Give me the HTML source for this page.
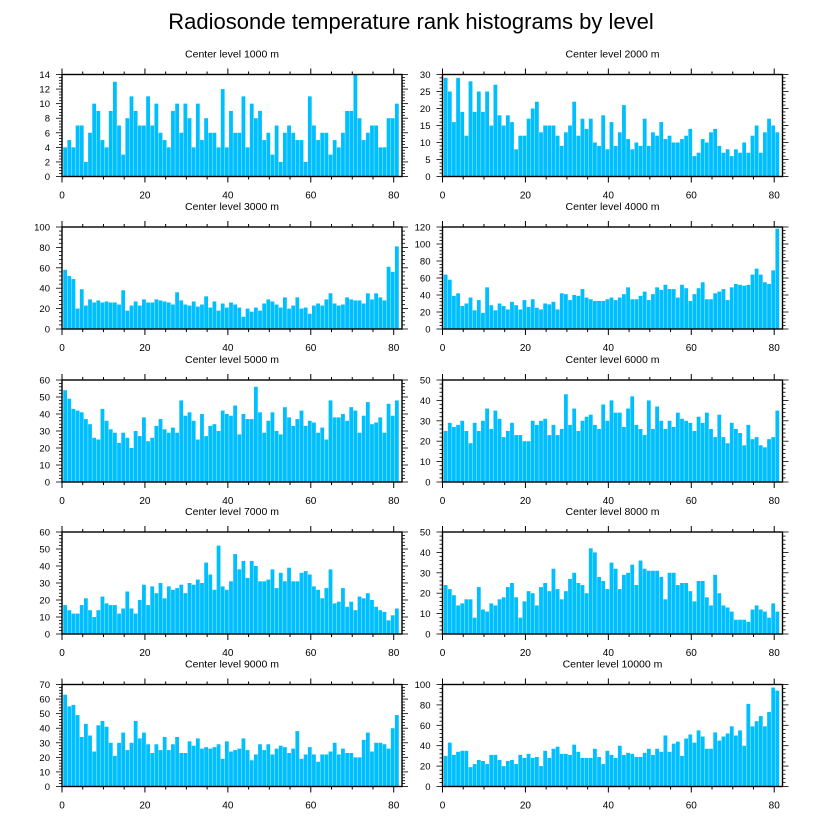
<!DOCTYPE html>
<html><head><meta charset="utf-8"><style>
html,body{margin:0;padding:0;background:#fff;}
svg{display:block;font-family:"Liberation Sans",Arial,sans-serif;}
</style></head><body>
<svg id="chart" width="822" height="824" viewBox="0 0 822 824" xmlns="http://www.w3.org/2000/svg">
<text x="411" y="29" text-anchor="middle" font-size="22">Radiosonde temperature rank histograms by level</text>
</svg>
<script>
const levels = [1000,2000,3000,4000,5000,6000,7000,8000,9000,10000];
const yMaxes = [14,30,100,120,60,50,60,50,70,100];
const yMajorSteps = [2,5,20,20,10,10,10,10,10,20];
const xTicks = [0,20,40,60,80];
const c1000 = [4,5,4,7,7,2,6,10,9,5,4,9,13,7,3,8,11,9,7,7,11,7,10,6,5,4,9,10,6,10,8,4,10,5,8,6,6,4,12,4,9,6,6,11,4,10,8,9,5,6,3,7,2,6,7,6,5,5,2,11,7,5,6,6,3,5,4,6,9,9,14,8,5,6,7,7,4,4,8,8,10];
const c2000 = [29,25,16,29,19,12,28,19,25,19,25,15,27,18,15,18,16,8,12,12,17,20,22,13,15,15,15,12,9,13,15,22,12,17,14,17,10,9,18,8,16,9,13,21,11,8,10,9,17,9,13,12,16,11,12,10,10,11,12,14,6,7,11,10,13,14,9,7,8,6,8,7,10,7,12,15,7,13,17,15,13];
const c3000 = [58,52,49,20,39,23,29,26,28,26,27,26,26,24,38,18,23,27,23,29,26,26,29,28,27,26,24,36,28,24,23,27,22,24,32,21,27,18,25,21,26,24,21,12,20,17,21,18,25,29,27,24,21,31,20,23,31,20,21,15,23,25,23,29,35,25,23,24,31,29,28,28,25,35,29,35,31,28,61,56,81];
const c4000 = [64,58,39,42,27,30,37,22,34,19,49,28,22,30,27,23,32,28,23,34,26,35,25,23,30,29,32,23,42,41,34,40,39,47,37,35,33,33,33,35,37,34,37,41,49,35,35,39,44,34,41,49,46,52,47,47,37,52,48,33,41,48,55,35,35,42,44,47,34,49,53,52,51,52,64,71,64,55,53,69,118];
const c5000 = [54,49,43,42,41,37,34,26,25,43,36,31,29,23,29,26,20,30,27,38,24,26,33,37,31,29,32,29,48,39,41,36,25,40,27,33,34,30,42,40,39,45,28,40,37,37,56,41,29,36,41,30,28,44,38,33,37,42,33,36,35,29,32,25,48,38,38,40,36,44,42,29,39,47,34,35,38,29,46,39,48];
const c6000 = [25,29,27,28,30,25,19,29,25,30,36,26,35,31,22,25,29,23,23,20,20,30,28,30,31,23,28,23,26,43,28,36,25,30,32,33,28,26,38,30,40,34,34,27,36,42,28,26,23,40,26,37,30,26,30,27,34,31,30,29,25,32,29,34,26,22,33,22,19,29,26,24,18,28,21,22,18,17,21,22,35];
const c7000 = [17,14,12,12,17,21,14,10,14,22,18,17,17,12,15,25,15,12,20,29,17,28,24,30,21,28,26,27,29,24,30,29,32,30,42,35,26,52,28,26,31,47,38,43,33,43,40,31,31,32,38,27,36,31,39,31,31,36,37,35,28,26,21,27,38,18,19,27,16,19,14,22,21,24,20,16,14,13,8,11,15];
const c8000 = [24,22,19,14,15,17,17,8,23,12,11,15,14,17,18,23,25,18,8,16,21,20,14,23,25,21,32,22,17,21,27,30,25,24,20,42,40,28,26,22,35,32,22,29,30,34,24,36,32,31,31,31,28,17,30,30,24,25,25,21,16,26,26,18,14,29,20,14,13,11,7,7,7,6,12,14,12,11,8,15,11];
const c9000 = [63,55,56,49,34,43,35,24,42,45,41,30,21,30,37,25,30,45,33,37,29,23,29,25,34,25,29,34,23,23,31,28,33,26,27,26,27,29,19,31,24,25,26,33,25,18,22,29,25,29,22,26,28,27,23,26,38,19,22,27,22,17,22,22,24,30,22,26,23,23,20,20,32,37,24,30,30,29,26,40,49];
const c10000 = [30,43,31,34,35,35,19,22,26,25,22,31,31,26,20,25,26,22,31,28,32,28,29,20,35,28,37,39,32,32,31,41,34,28,28,28,37,29,22,35,31,28,40,31,33,32,29,29,33,37,31,37,34,50,34,42,44,30,47,51,43,55,49,37,37,53,45,49,52,59,50,55,40,81,59,64,69,59,73,97,94];
const allCounts = [c1000,c2000,c3000,c4000,c5000,c6000,c7000,c8000,c9000,c10000];

const NS = "http://www.w3.org/2000/svg";
const svg = document.getElementById('chart');
function mk(tag, attrs, parent){ const e=document.createElementNS(NS,tag); for(const k in attrs) e.setAttribute(k,attrs[k]); (parent||svg).appendChild(e); return e; }

const colLeft = [62, 442.5];
const plotW = 340;
const rowTop = [74.5, 227, 380, 532, 684.5];
const plotH = 102;
const xDomain = 82;

for (let p=0; p<10; p++){
  const L = colLeft[p%2], T = rowTop[Math.floor(p/2)];
  const B = T + plotH, R = L + plotW;
  const counts = allCounts[p], yMax = yMaxes[p], step = yMajorSteps[p];
  const xs = v => L + v/xDomain*plotW;
  const ys = v => B - v/yMax*plotH;
  const g = mk('g',{});
  
  
  const t = mk('text',{x:(L+R)/2, y:T-17, 'text-anchor':'middle','font-size':'10.5'}, g);
  t.textContent = 'Center level '+levels[p]+' m';
  
  
  const unit = plotW/xDomain;
  counts.forEach((c,i)=>{
    const r = mk('rect',{x:xs(i+0.3), y:ys(c), width:unit-0.35, height:B-ys(c), fill:'#00BFFF'}, g);
    
    
  });
  const f = mk('rect',{x:L,y:T,width:plotW,height:plotH,fill:'none',stroke:'#000','stroke-width':'1.4'}, g);
  
  
  for (let v=0; v<=xDomain; v+=5){
    const major = v%20===0;
    const len = major?6:3;
    mk('line',{x1:xs(v),x2:xs(v),y1:B,y2:B+len,stroke:'#000','stroke-width':'1'},g);
    mk('line',{x1:xs(v),x2:xs(v),y1:T,y2:T-len,stroke:'#000','stroke-width':'1'},g);
  }
  xTicks.forEach(v=>{
    const lt = mk('text',{x:xs(v), y:B+22,'text-anchor':'middle','font-size':'10'},g);
    lt.textContent = v;
    
    
  });
  const minor = step/5;
  for (let k=0; k*minor<=yMax+1e-9; k++){
    const v=k*minor;
    const major = (k%5===0);
    const len = major?6:3;
    mk('line',{x1:L,x2:L-len,y1:ys(v),y2:ys(v),stroke:'#000','stroke-width':'0.8'},g);
    mk('line',{x1:R,x2:R+len,y1:ys(v),y2:ys(v),stroke:'#000','stroke-width':'0.8'},g);
  }
  for (let v=0; v<=yMax+1e-9; v+=step){
    const yt = mk('text',{x:L-12, y:ys(v)+3.5,'text-anchor':'end','font-size':'9.5'},g);
    yt.textContent = v;
    
    
  }
}
</script>
</body></html>
